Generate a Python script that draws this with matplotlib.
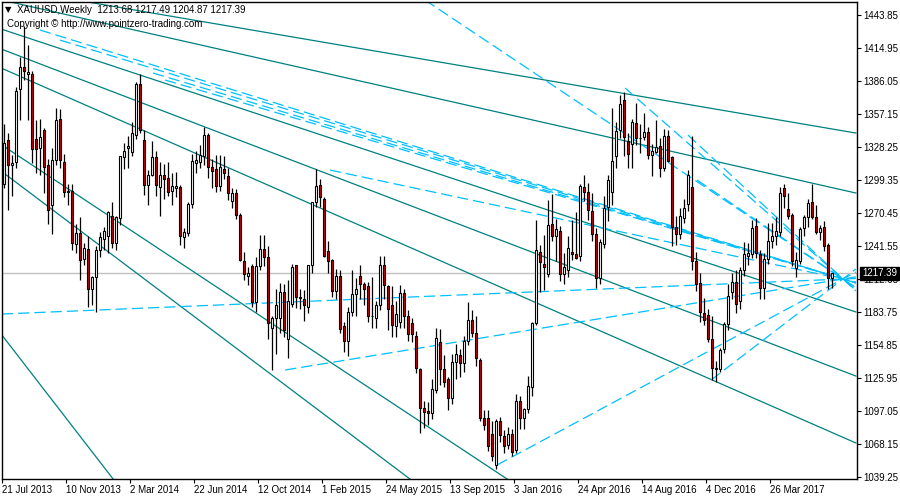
import numpy as np
import matplotlib
matplotlib.use('Agg')
import matplotlib.pyplot as plt

matplotlib.rcParams.update({'font.size': 7, 'font.family': ['Liberation Sans', 'DejaVu Sans']})

# weekly XAUUSD candles, bar 0 = week of 21 Jul 2013
opens = [1296, 1334, 1312, 1315, 1379, 1398, 1392, 1392, 1335, 1327,
         1343, 1312, 1277, 1317, 1353, 1315, 1289, 1290, 1243, 1253,
         1230, 1239, 1204, 1214, 1238, 1248, 1250, 1268, 1244, 1266,
         1319, 1327, 1324, 1339, 1383, 1334, 1295, 1304, 1319, 1293,
         1304, 1301, 1290, 1292, 1293, 1249, 1253, 1278, 1314, 1315,
         1320, 1339, 1311, 1309, 1294, 1309, 1303, 1281, 1288, 1269,
         1228, 1215, 1224, 1192, 1224, 1239, 1232, 1170, 1178, 1178,
         1201, 1160, 1191, 1225, 1197, 1195, 1188, 1225, 1280, 1295,
         1283, 1237, 1229, 1202, 1215, 1171, 1158, 1184, 1199, 1215,
         1208, 1206, 1180, 1178, 1190, 1225, 1206, 1190, 1171, 1175,
         1200, 1180, 1174, 1163, 1134, 1100, 1097, 1095, 1115, 1157,
         1134, 1125, 1108, 1140, 1146, 1139, 1158, 1177, 1165, 1142,
         1091, 1091, 1077, 1050, 1088, 1075, 1067, 1077, 1063, 1106,
         1091, 1099, 1118, 1174, 1236, 1226, 1217, 1261, 1250, 1255,
         1217, 1220, 1236, 1234, 1233, 1293, 1289, 1272, 1252, 1213,
         1243, 1276, 1289, 1320, 1343, 1369, 1333, 1331, 1349, 1336,
         1337, 1341, 1321, 1324, 1329, 1310, 1338, 1319, 1258, 1252,
         1266, 1278, 1293, 1228, 1209, 1183, 1181, 1160, 1134, 1134,
         1151, 1173, 1201, 1210, 1193, 1220, 1233, 1234, 1259, 1234,
         1205, 1230, 1246, 1250, 1254, 1292, 1274, 1269, 1222, 1228,
         1257, 1267, 1280, 1267, 1254, 1258, 1242, 1213.68]
highs = [1348, 1340, 1321, 1381, 1407, 1434, 1417, 1395, 1352, 1353,
         1345, 1318, 1327, 1362, 1361, 1322, 1296, 1296, 1261, 1267,
         1244, 1250, 1215, 1241, 1254, 1258, 1272, 1280, 1268, 1320,
         1332, 1338, 1350, 1385, 1392, 1343, 1308, 1333, 1325, 1315,
         1313, 1315, 1305, 1306, 1295, 1257, 1280, 1322, 1325, 1330,
         1346, 1340, 1318, 1321, 1321, 1320, 1310, 1292, 1291, 1270,
         1236, 1223, 1226, 1232, 1251, 1251, 1241, 1180, 1204, 1209,
         1208, 1212, 1226, 1225, 1204, 1203, 1225, 1280, 1309, 1300,
         1284, 1246, 1230, 1221, 1220, 1175, 1188, 1220, 1213, 1225,
         1210, 1210, 1214, 1193, 1233, 1233, 1207, 1206, 1193, 1207,
         1204, 1185, 1178, 1167, 1135, 1106, 1105, 1125, 1170, 1169,
         1146, 1127, 1147, 1156, 1151, 1163, 1192, 1185, 1180, 1143,
         1098, 1098, 1088, 1090, 1092, 1080, 1083, 1081, 1112, 1110,
         1100, 1128, 1175, 1264, 1242, 1251, 1282, 1287, 1265, 1259,
         1235, 1250, 1264, 1271, 1296, 1304, 1297, 1288, 1257, 1248,
         1285, 1304, 1362, 1350, 1374, 1376, 1340, 1353, 1367, 1348,
         1358, 1346, 1331, 1352, 1336, 1344, 1343, 1320, 1268, 1275,
         1283, 1308, 1338, 1236, 1218, 1196, 1186, 1180, 1141, 1152,
         1175, 1208, 1218, 1220, 1223, 1245, 1244, 1264, 1266, 1238,
         1235, 1262, 1262, 1267, 1293, 1296, 1288, 1270, 1236, 1258,
         1269, 1283, 1296, 1277, 1260, 1263, 1244, 1217.49]
lows = [1292, 1273, 1285, 1310, 1352, 1387, 1352, 1314, 1305, 1304,
        1288, 1261, 1252, 1312, 1310, 1284, 1277, 1238, 1235, 1212,
        1225, 1188, 1190, 1184, 1232, 1238, 1235, 1240, 1238, 1260,
        1309, 1310, 1320, 1335, 1340, 1286, 1277, 1303, 1285, 1268,
        1283, 1285, 1277, 1284, 1242, 1240, 1250, 1275, 1305, 1310,
        1312, 1301, 1292, 1289, 1290, 1300, 1282, 1275, 1265, 1228,
        1212, 1207, 1188, 1184, 1220, 1224, 1160, 1133, 1147, 1165,
        1162, 1143, 1188, 1187, 1186, 1176, 1183, 1218, 1276, 1276,
        1232, 1218, 1197, 1195, 1165, 1149, 1145, 1180, 1180, 1195,
        1190, 1175, 1170, 1170, 1185, 1195, 1168, 1162, 1162, 1170,
        1170, 1158, 1157, 1130, 1078, 1082, 1085, 1090, 1113, 1120,
        1118, 1098, 1103, 1125, 1127, 1131, 1155, 1162, 1136, 1088,
        1080, 1062, 1053, 1046, 1070, 1060, 1064, 1058, 1060, 1081,
        1081, 1095, 1110, 1172, 1201, 1203, 1214, 1246, 1228, 1211,
        1208, 1214, 1229, 1230, 1228, 1281, 1264, 1246, 1205, 1208,
        1240, 1263, 1277, 1310, 1336, 1320, 1310, 1310, 1330, 1323,
        1334, 1318, 1303, 1323, 1302, 1307, 1315, 1241, 1242, 1248,
        1262, 1272, 1220, 1202, 1175, 1172, 1157, 1124, 1122, 1131,
        1148, 1168, 1195, 1183, 1186, 1215, 1225, 1231, 1231, 1195,
        1195, 1226, 1240, 1242, 1250, 1275, 1265, 1224, 1214, 1226,
        1250, 1258, 1265, 1252, 1247, 1237, 1204, 1204.87]
closes = [1332, 1312, 1314, 1377, 1398, 1395, 1394, 1326, 1326, 1337,
          1311, 1273, 1317, 1352, 1317, 1289, 1290, 1244, 1253, 1229,
          1240, 1204, 1214, 1238, 1249, 1255, 1271, 1244, 1267, 1320,
          1325, 1329, 1340, 1383, 1343, 1295, 1304, 1319, 1295, 1304,
          1300, 1289, 1294, 1294, 1250, 1254, 1278, 1316, 1317, 1321,
          1339, 1311, 1307, 1294, 1311, 1305, 1288, 1288, 1269, 1229,
          1217, 1218, 1192, 1224, 1239, 1232, 1174, 1178, 1190, 1201,
          1168, 1193, 1223, 1197, 1196, 1190, 1225, 1280, 1294, 1284,
          1233, 1228, 1202, 1215, 1169, 1158, 1184, 1199, 1204, 1208,
          1204, 1180, 1180, 1190, 1225, 1207, 1186, 1172, 1182, 1200,
          1180, 1164, 1164, 1135, 1100, 1096, 1095, 1116, 1161, 1134,
          1122, 1108, 1140, 1147, 1139, 1158, 1177, 1165, 1143, 1091,
          1085, 1066, 1058, 1088, 1076, 1066, 1077, 1061, 1106, 1091,
          1099, 1119, 1174, 1238, 1227, 1223, 1260, 1250, 1256, 1217,
          1223, 1240, 1234, 1231, 1294, 1289, 1273, 1252, 1213, 1245,
          1275, 1299, 1316, 1342, 1366, 1337, 1322, 1350, 1336, 1336,
          1341, 1321, 1325, 1328, 1310, 1338, 1316, 1258, 1252, 1268,
          1275, 1304, 1228, 1208, 1184, 1177, 1160, 1135, 1135, 1150,
          1173, 1198, 1210, 1191, 1220, 1234, 1235, 1257, 1235, 1205,
          1230, 1246, 1250, 1255, 1288, 1285, 1268, 1228, 1229, 1256,
          1267, 1279, 1267, 1254, 1257, 1241, 1213, 1217.39]

date_ticks = [0, 16, 32, 48, 64, 80, 96, 112, 128, 144, 160, 176, 192]
date_labels = ['21 Jul 2013', '10 Nov 2013', '2 Mar 2014', '22 Jun 2014', '12 Oct 2014',
               '1 Feb 2015', '24 May 2015', '13 Sep 2015', '3 Jan 2016', '24 Apr 2016',
               '14 Aug 2016', '4 Dec 2016', '26 Mar 2017']
price_ticks = [1039.25, 1068.15, 1097.05, 1125.95, 1154.85, 1183.75, 1212.65, 1241.55,
               1270.45, 1299.35, 1328.25, 1357.15, 1386.05, 1414.95, 1443.85]
last_price = 1217.39

# trend lines as (bar0, price0, bar1, price1)
solid_lines = [(-0.4, 1467.8, 213.1, 1340.3),
               (-0.4, 1456.7, 213.1, 1287.8),
               (-0.4, 1431.1, 213.1, 1183.7),
               (-0.4, 1413.6, 213.1, 1127.6),
               (-0.4, 1396.9, 213.1, 1069.0),
               (-0.4, 1329.8, 125.9, 1037.5),
               (-0.4, 1306.5, 101.6, 1037.5),
               (-0.4, 1163.5, 27.4, 1037.5)]
dashed_lines = [(9.1, 1430.5, 213.1, 1209.0),
                (14.1, 1421.7, 213.1, 1209.2),
                (37.4, 1392.8, 213.1, 1209.2),
                (40.4, 1386.7, 213.1, 1209.4),
                (81.6, 1307.9, 213.1, 1210.1),
                (105.4, 1456.7, 213.1, 1204.9),
                (155.4, 1379.7, 213.1, 1202.6),
                (171.1, 1338.6, 213.1, 1202.1),
                (173.4, 1299.2, 213.1, 1204.8),
                (123.4, 1049.8, 213.1, 1218.7),
                (176.9, 1124.1, 213.1, 1221.3),
                (70.4, 1132.9, 213.1, 1214.4),
                (-0.4, 1181.9, 213.1, 1213.0)]

o = np.array(opens); h = np.array(highs); l = np.array(lows); c = np.array(closes)
x = np.arange(len(c))
up = c >= o

fig = plt.figure(figsize=(9, 5), dpi=100)
ax = fig.add_axes([2/900, 21/500, 855/900, 477/500])

for b0, p0, b1, p1 in solid_lines:
    ax.plot([b0, b1], [p0, p1], color='#008080', lw=0.9, zorder=1)
for b0, p0, b1, p1 in dashed_lines:
    ax.plot([b0, b1], [p0, p1], color='#00bfff', lw=0.9, dashes=(9, 4), zorder=1)

ax.axhline(last_price, color='#c0c0c0', lw=1, zorder=0.5)

ax.vlines(x, l, h, color='black', lw=0.9, zorder=2)
ax.bar(x[up], (c - o)[up], bottom=o[up], width=0.5, color='white', edgecolor='black', lw=0.8, zorder=3)
ax.bar(x[~up], (o - c)[~up], bottom=c[~up], width=0.5, color='#c80000', edgecolor='black', lw=0.8, zorder=3)

ax.set_xlim(-0.375, 213.375)
ax.set_ylim(1037.5, 1455.0)

ax.yaxis.tick_right()
ax.set_yticks(price_ticks)
ax.set_yticklabels(['%.2f' % p for p in price_ticks])
ax.set_xticks(np.array(date_ticks) - 0.375)
ax.set_xticklabels(date_labels)
for t in ax.get_xticklabels():
    t.set_ha('left')
ax.tick_params(axis='both', length=3, width=0.8, pad=1.5, labelsize=7, colors='black')
for s in ax.spines.values():
    s.set_linewidth(1)

ax.annotate('%.2f' % last_price, xy=(1.0, last_price), xycoords=('axes fraction', 'data'),
            xytext=(3.5, 0), textcoords='offset points', va='center', ha='left',
            color='white', fontsize=7, zorder=10,
            bbox=dict(boxstyle='square,pad=0.2', fc='black', ec='black'))

fig.text(5/900, 1 - 10/500, u'\u25bc', fontsize=6, va='center', family='DejaVu Sans')
fig.text(17/900, 1 - 10/500, 'XAUUSD,Weekly  1213.68 1217.49 1204.87 1217.39', fontsize=7, va='center')
fig.text(7/900, 1 - 24/500, u'Copyright \u00a9 http://www.pointzero-trading.com', fontsize=7, va='center')

plt.savefig('out.png', dpi=100)
